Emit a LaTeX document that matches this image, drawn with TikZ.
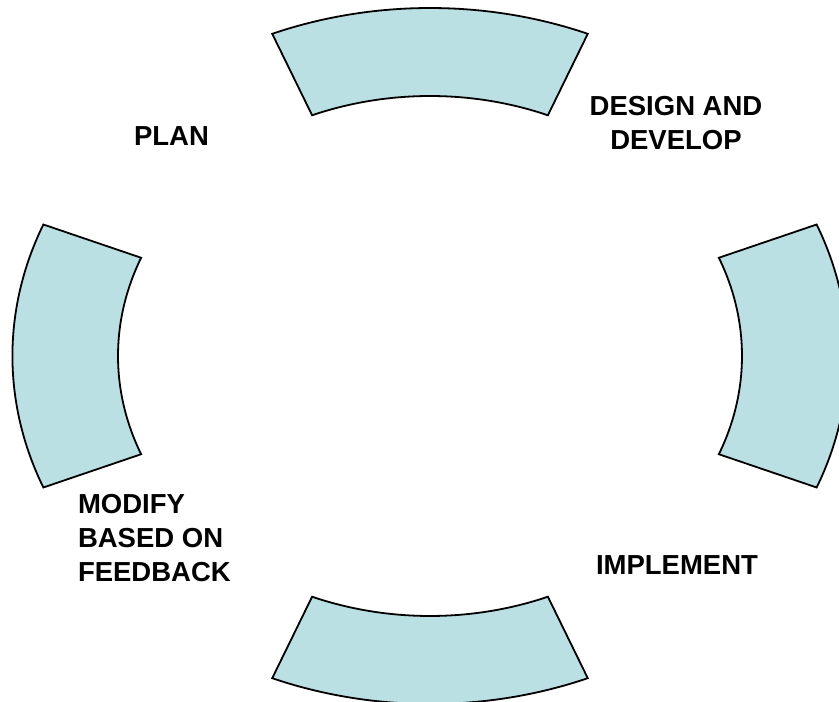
\documentclass[tikz,border=0pt]{standalone}
\usepackage{fontspec}
\setmainfont{Liberation Sans}
\definecolor{secfill}{RGB}{187,224,227}
\begin{document}
\begin{tikzpicture}[x=1pt,y=1pt,
  sector/.style={draw=black, line width=1.8pt, fill=secfill, line join=miter},
  lbl/.style={font=\fontsize{27.5}{34}\selectfont\bfseries, inner sep=0pt, outer sep=0pt}]
\useasboundingbox (0,0) rectangle (839,702);
\clip (0,0) rectangle (839,702);
\begin{scope}[shift={(430,346)}, xscale=1.2]
  \foreach \a in {90,0,270,180}{
    \draw[sector] (\a-22.2:348) arc[start angle=\a-22.2, end angle=\a+22.2, radius=348]
      -- (\a+22.2:260) arc[start angle=\a+22.2, end angle=\a-22.2, radius=260] -- cycle;
  }
\end{scope}
\node[lbl, anchor=base] (plan) at (171.5,556) {PLAN};
\node[lbl, anchor=north, align=center] (design) at (676,606) {DESIGN AND\\DEVELOP};
\node[lbl, anchor=base] (impl) at (677,127) {IMPLEMENT};
\node[lbl, anchor=north west, align=left] (modify) at (78,208) {MODIFY\\BASED ON\\FEEDBACK};
\end{tikzpicture}
\end{document}
